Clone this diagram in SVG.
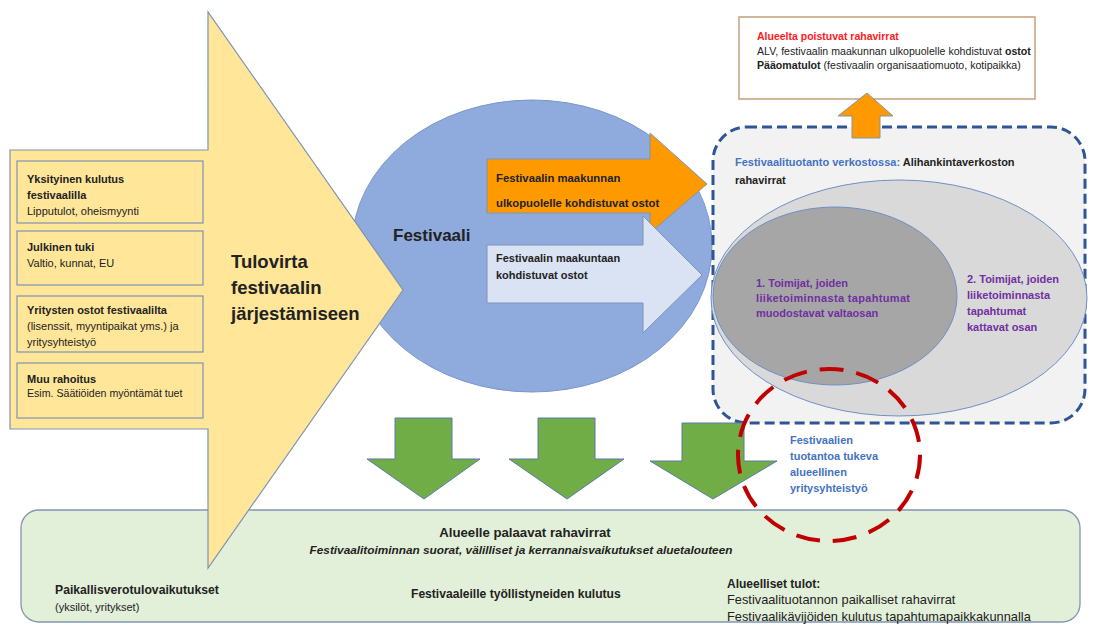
<svg xmlns="http://www.w3.org/2000/svg" width="1103" height="627" viewBox="0 0 1103 627">
<defs>
<style>
text{font-family:"Liberation Sans",Arial,sans-serif;fill:#222}
.b{font-weight:bold}
.box{fill:#ffe699;stroke:#7f93b4;stroke-width:1.2}
.s11{font-size:11px}
.pur{fill:#7030a0;font-weight:bold;font-size:11px}
.blu{fill:#4472c4;font-weight:bold;font-size:11px}
.garrow{fill:#70ad47;stroke:#5b7bad;stroke-width:1}
</style>
</defs>
<rect width="1103" height="627" fill="#ffffff"/>

<g id="bottom-box">
<rect x="21" y="510" width="1059" height="112" rx="18" fill="#e2f0d9" stroke="#8497b0" stroke-width="1.3"/>
<text x="525" y="537" text-anchor="middle" class="b" font-size="13.2">Alueelle palaavat rahavirrat</text>
<text x="521" y="554" text-anchor="middle" class="b" font-size="11.8" font-style="italic">Festivaalitoiminnan suorat, välilliset ja kerrannaisvaikutukset aluetalouteen</text>
<text x="55" y="594" class="b" font-size="12.2">Paikallisverotulovaikutukset</text>
<text x="55" y="611" font-size="11">(yksilöt, yritykset)</text>
<text x="411" y="598" class="b" font-size="12.1">Festivaaleille työllistyneiden kulutus</text>
<text x="727" y="588" class="b" font-size="12">Alueelliset tulot:</text>
<text x="727" y="604" font-size="12.8">Festivaalituotannon paikalliset rahavirrat</text>
<text x="727" y="621" font-size="12.8">Festivaalikävijöiden kulutus tapahtumapaikkakunnalla</text>
</g>

<g id="festivaali">
<ellipse cx="532" cy="246" rx="180" ry="146" fill="#8faadc" stroke="#7a96cc" stroke-width="1"/>
<text x="393" y="241" class="b" font-size="17">Festivaali</text>
</g>

<g id="tulovirta">
<polygon points="10,150 208,150 208,12 403,290 208,568 208,429 10,429" fill="#ffe699" stroke="#7f93b4" stroke-width="1.2"/>
<text x="231" y="268" class="b" font-size="18.5">Tulovirta</text>
<text x="231" y="294" class="b" font-size="18.5">festivaalin</text>
<text x="231" y="320" class="b" font-size="18.5">järjestämiseen</text>
</g>

<g id="yksityinen">
<rect class="box" x="17" y="161" width="186" height="62"/>
<text x="27" y="183" class="b s11">Yksityinen kulutus</text>
<text x="27" y="199" class="b s11">festivaalilla</text>
<text x="27" y="215" class="s11">Lipputulot, oheismyynti</text>
</g>
<g id="julkinen">
<rect class="box" x="17" y="231" width="186" height="54"/>
<text x="27" y="251" class="b s11">Julkinen tuki</text>
<text x="27" y="267" class="s11">Valtio, kunnat, EU</text>
</g>
<g id="yritysten">
<rect class="box" x="17" y="296" width="186" height="56"/>
<text x="27" y="314" class="b s11">Yritysten ostot festivaalilta</text>
<text x="27" y="330" class="s11">(lisenssit, myyntipaikat yms.) ja</text>
<text x="27" y="346" class="s11">yritysyhteistyö</text>
</g>
<g id="muu">
<rect class="box" x="17" y="363" width="186" height="55"/>
<text x="27" y="383" class="b s11">Muu rahoitus</text>
<text x="27" y="397" font-size="10.6">Esim. Säätiöiden myöntämät tuet</text>
</g>

<g id="ulkopuolelle">
<polygon points="487,159 650,159 650,133 707,184 650,233 650,213 487,213" fill="#ff9900" stroke="#7f93b4" stroke-width="1"/>
<text x="496" y="182" class="b" font-size="11.3">Festivaalin maakunnan</text>
<text x="496" y="207" class="b" font-size="11.3">ulkopuolelle  kohdistuvat ostot</text>
</g>
<g id="maakuntaan">
<polygon points="487,245 643,245 643,216 702,275 643,333 643,303 487,303" fill="#dae3f3" stroke="#7f93b4" stroke-width="1"/>
<text x="496" y="262" class="b s11">Festivaalin maakuntaan</text>
<text x="496" y="279" class="b s11">kohdistuvat ostot</text>
</g>

<g id="poistuvat">
<rect x="739" y="17" width="296" height="82" fill="#ffffff" stroke="#c4a07c" stroke-width="1.5"/>
<text x="757" y="40" font-size="10.5" font-weight="bold" style="fill:#ff1a1a">Alueelta poistuvat  rahavirrat</text>
<text x="757" y="55" font-size="10.6">ALV, festivaalin maakunnan ulkopuolelle kohdistuvat <tspan font-weight="bold">ostot</tspan></text>
<text x="757" y="69" font-size="10.6"><tspan font-weight="bold">Pääomatulot</tspan> (festivaalin organisaatiomuoto, kotipaikka)</text>
</g>

<g id="verkosto">
<rect x="713" y="127" width="372" height="296" rx="34" fill="#f2f2f2" stroke="#2f5597" stroke-width="3" stroke-dasharray="10,5"/>
<text x="735" y="166" class="b" font-size="11"><tspan style="fill:#4472c4">Festivaalituotanto verkostossa:</tspan> Alihankintaverkoston</text>
<text x="735" y="184" class="b" font-size="11">rahavirrat</text>
</g>

<g id="toimijat2">
<ellipse cx="899" cy="298" rx="188" ry="118" fill="#d9d9d9" stroke="#6f8fc7" stroke-width="1"/>
<text x="967" y="283" class="pur">2. Toimijat, joiden</text>
<text x="967" y="299" class="pur">liiketoiminnasta</text>
<text x="967" y="315" class="pur">tapahtumat</text>
<text x="967" y="331" class="pur">kattavat osan</text>
</g>
<g id="toimijat1">
<ellipse cx="835" cy="296" rx="122" ry="89" fill="#a6a6a6" stroke="#6f8fc7" stroke-width="1"/>
<text x="756" y="287" class="pur">1. Toimijat, joiden</text>
<text x="756" y="302" class="pur" textLength="154">liiketoiminnasta tapahtumat</text>
<text x="756" y="317" class="pur">muodostavat valtaosan</text>
</g>

<g id="connectors">
<polygon class="garrow" points="395,418 452,418 452,459 480,459 424,499 367,459 395,459"/>
<polygon class="garrow" points="538,418 595,418 595,459 624,459 567,499 509,459 538,459"/>
<polygon class="garrow" points="682,423 744,423 744,461 777,461 713,499 650,461 682,461"/>
<polygon points="852,138 880,138 880,116 893,116 867,93 838,116 852,116" fill="#ff9900" stroke="#7f93b4" stroke-width="1"/>
</g>

<g id="yhteistyo">
<text x="790" y="444" class="blu">Festivaalien</text>
<text x="790" y="460" class="blu">tuotantoa tukeva</text>
<text x="790" y="476" class="blu">alueellinen</text>
<text x="790" y="492" class="blu">yritysyhteistyö</text>
<ellipse cx="829" cy="455" rx="91" ry="86" fill="none" stroke="#c00000" stroke-width="4" stroke-dasharray="24,13"/>
</g>
</svg>
